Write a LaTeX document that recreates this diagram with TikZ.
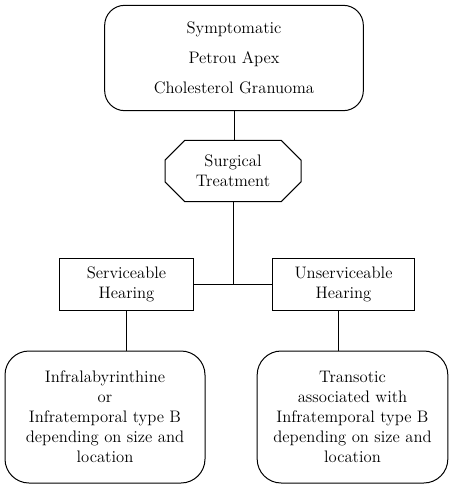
\documentclass[tikz,border=0pt]{standalone}
\usetikzlibrary{shapes.misc}
\tikzset{
    topbox/.style={draw, rounded corners=15pt, minimum width=194pt, minimum height=79pt, align=center, font=\fontsize{12.5}{22.5}\selectfont},
    surgery/.style={draw, chamfered rectangle, chamfered rectangle xsep=13pt, minimum width=102pt, minimum height=46pt, inner sep=0pt, align=center},
    hearing/.style={draw, minimum height=39pt, inner sep=0pt, align=center},
    approach/.style={draw, rounded corners=18pt, minimum height=99pt, inner sep=0pt, align=center}
}

\begin{document}
\begin{tikzpicture}
  [
    x                       = 0.75pt,
    y                       = -0.75pt,
    line width              = 0.75pt,
    every node/.style       = {font=\fontsize{12.5}{15}\selectfont},
  ]
  \useasboundingbox (0,0) rectangle (449,489);
  \node [topbox] (symptom) at (234,58) {Symptomatic\\Petrou Apex\\Cholesterol Granuoma};
  \node [surgery] (surgical) at (233,171) {Surgical\\Treatment};
  \node [hearing, minimum width=100pt] (serv) at (126.5,284) {Serviceable\\Hearing};
  \node [hearing, minimum width=107pt] (unserv) at (343.5,284) {Unserviceable\\Hearing};
  \node [approach, minimum width=150pt] (infra) at (105,417) {Infralabyrinthine\\or\\Infratemporal type B\\depending on size and\\location};
  \node [approach, minimum width=143pt] (trans) at (352.5,417) {Transotic\\associated with\\Infratemporal type B\\depending on size and\\location};
  \coordinate (junction) at (233,284);
  \draw (symptom.south) -- (symptom.south |- surgical.north);
  \draw (surgical.south) -- (junction);
  \draw (serv.east) -- (unserv.west);
  \draw (serv.south) -- (serv.south |- infra.north);
  \draw ([xshift=-4pt]unserv.south) -- ([xshift=-4pt]unserv.south |- trans.north);
\end{tikzpicture}
\end{document}
